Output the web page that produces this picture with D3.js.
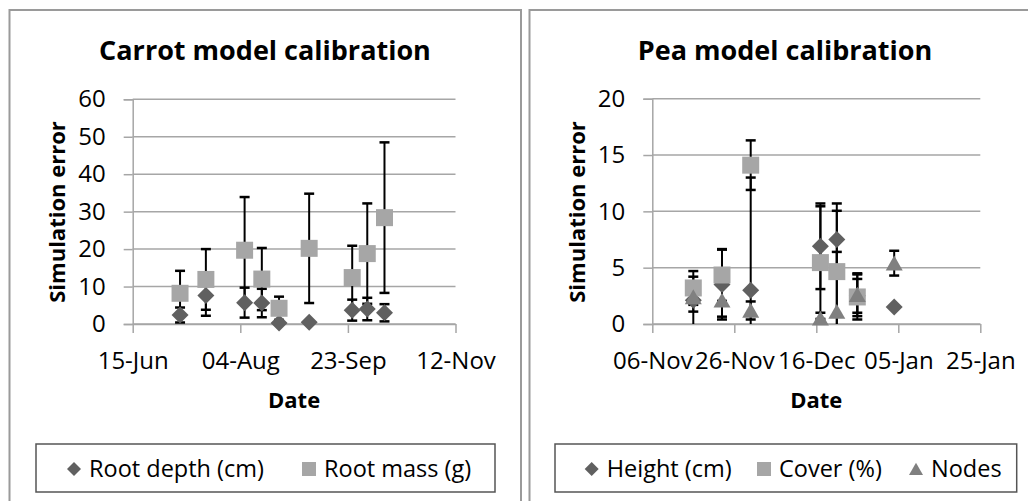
<!DOCTYPE html>
<html>
<head>
<meta charset="utf-8">
<script src="https://cdn.jsdelivr.net/npm/d3@7/dist/d3.min.js"></script>
<style>
  body { margin: 0; background: #fff; }
  text { font-family: "Open Sans", sans-serif; fill: #000; }
</style>
</head>
<body>
<svg id="chart" width="1028" height="501"></svg>
<script>
// carrot calibration
const carrotDates = ["2010-07-07", "2010-07-19", "2010-08-06", "2010-08-14", "2010-08-22",
  "2010-09-05", "2010-09-25", "2010-10-02", "2010-10-10"];
const rootDepth = [2.4, 7.6, 5.7, 5.6, 0.3, 0.5, 3.7, 4.0, 3.0];
const rootDepthErr = [2.0, 5.4, 4.0, 3.8, 0, 0, 2.8, 3.0, 2.3];
const rootMass = [8.2, 11.9, 19.7, 12.0, 4.2, 20.2, 12.4, 18.8, 28.4];
const rootMassErr = [6.0, 8.1, 14.2, 8.3, 3.1, 14.6, 8.5, 13.4, 20.1];
const carrotXTicks = ["2010-06-15", "2010-08-04", "2010-09-23", "2010-11-12"];
const carrotYTicks = [0, 10, 20, 30, 40, 50, 60];

// pea calibration
const peaDates = ["2011-11-16", "2011-11-23", "2011-11-30", "2011-12-17", "2011-12-21",
  "2011-12-26", "2012-01-04"];
const peaHeight = [2.1, 3.5, 3.0, 6.9, 7.5, 2.5, 1.5];
const peaHeightErr = [2.1, 3.1, 10.0, 3.8, 3.2, 1.5, 0];
const peaCover = [3.2, 4.35, 14.1, 5.45, 4.65, 2.4, null];
const peaCoverErr = [1.5, 2.3, 2.2, 5.0, 5.4, 2.0, null];
const peaNodes = [2.4, 2.1, 1.2, 0.5, 1.1, 2.6, 5.4];
const peaNodesErr = [1.3, 1.45, 0.8, 0.5, 5.3, 1.9, 1.1];
const peaXTicks = ["2011-11-06", "2011-11-26", "2011-12-16", "2012-01-05", "2012-01-25"];
const peaYTicks = [0, 5, 10, 15, 20];

const parse = d3.utcParse("%Y-%m-%d");
const fmt = d3.utcFormat("%d-%b");

const COLORS = { diamond: "#606060", square: "#a6a6a6", triangle: "#808080" };
const GRID = "#a6a6a6";

const shapes = {
  diamond: (r) => `M0,${-r}L${r},0L0,${r}L${-r},0Z`,
  square: (r) => `M${-r},${-r}H${r}V${r}H${-r}Z`,
  triangle: (r) => `M0,${-r * 0.9}L${r},${r * 0.85}L${-r},${r * 0.85}Z`,
};

const svg = d3.select("#chart");

function drawPanel(cfg) {
  const g = svg.append("g");

  // frame
  g.append("rect")
    .attr("x", cfg.frame[0]).attr("y", 10)
    .attr("width", cfg.frame[1] - cfg.frame[0]).attr("height", 520)
    .attr("fill", "none").attr("stroke", "#9a9a9a").attr("stroke-width", 2);

  const x = d3.scaleUtc()
    .domain([parse(cfg.xTicks[0]), parse(cfg.xTicks[cfg.xTicks.length - 1])])
    .range([cfg.left, cfg.right]);
  const y = d3.scaleLinear()
    .domain([0, cfg.yTicks[cfg.yTicks.length - 1]])
    .range([324, cfg.top]);

  // gridlines
  g.append("g").selectAll("line").data(cfg.yTicks).join("line")
    .attr("x1", cfg.left).attr("x2", cfg.right)
    .attr("y1", (d) => y(d)).attr("y2", (d) => y(d))
    .attr("stroke", GRID).attr("stroke-width", 1.5);

  const yAxisG = g.append("g")
    .attr("transform", `translate(${cfg.left},0)`)
    .call(d3.axisLeft(y).tickValues(cfg.yTicks).tickSize(9).tickPadding(18).tickFormat(d3.format("d")));
  const xAxisG = g.append("g")
    .attr("transform", `translate(0,324)`)
    .call(d3.axisBottom(x).tickValues(cfg.xTicks.map(parse)).tickSize(9).tickSizeOuter(0).tickFormat(fmt));

  [yAxisG, xAxisG].forEach((ax) => {
    ax.select(".domain").attr("stroke", GRID).attr("stroke-width", 1.5);
    ax.selectAll(".tick line").attr("stroke", GRID).attr("stroke-width", 1.5);
    ax.selectAll(".tick text").attr("fill", "#000").style("font-size", "24px")
      .style("font-family", '"Open Sans", sans-serif');
  });
  xAxisG.selectAll(".tick text").attr("y", 28);

  // error bars
  const eg = g.append("g");
  cfg.series.forEach((s) => {
    s.dates.forEach((dt, i) => {
      const v = s.values[i], e = s.errors[i];
      if (v == null || !e) return;
      const cx = x(parse(dt));
      const lo = v - e, hi = v + e;
      const y0 = y(Math.max(0, lo)), y1 = y(hi);
      eg.append("line").attr("x1", cx).attr("x2", cx).attr("y1", y0).attr("y2", y1)
        .attr("stroke", "#000").attr("stroke-width", 2);
      eg.append("line").attr("x1", cx - 5).attr("x2", cx + 5).attr("y1", y1).attr("y2", y1)
        .attr("stroke", "#000").attr("stroke-width", 2.5);
      if (lo > 0) {
        eg.append("line").attr("x1", cx - 5).attr("x2", cx + 5).attr("y1", y0).attr("y2", y0)
          .attr("stroke", "#000").attr("stroke-width", 2.5);
      }
    });
  });

  // markers
  cfg.series.forEach((s) => {
    const pts = s.dates.map((dt, i) => ({ date: parse(dt), value: s.values[i] }))
      .filter((d) => d.value != null);
    g.append("g").selectAll("path").data(pts).join("path")
      .attr("transform", (d) => `translate(${x(d.date)},${y(d.value)})`)
      .attr("d", shapes[s.shape](8.5))
      .attr("fill", COLORS[s.shape]);
  });

  // titles
  g.append("text").attr("x", cfg.titleX).attr("y", 60)
    .attr("text-anchor", "middle").style("font-size", "27px").style("font-weight", 700)
    .text(cfg.title);
  g.append("text")
    .attr("transform", `translate(${cfg.yLabelX},212) rotate(-90)`)
    .attr("text-anchor", "middle").attr("dy", "0.35em")
    .style("font-size", "22px").style("font-weight", 700)
    .text("Simulation error");
  g.append("text").attr("x", (cfg.left + cfg.right) / 2).attr("y", 408)
    .attr("text-anchor", "middle").style("font-size", "22px").style("font-weight", 700)
    .text("Date");

  // legend
  g.append("rect")
    .attr("x", cfg.legend[0]).attr("y", 444)
    .attr("width", cfg.legend[1] - cfg.legend[0]).attr("height", 48)
    .attr("fill", "#fff").attr("stroke", "#555").attr("stroke-width", 1.5);
  cfg.series.forEach((s, i) => {
    const mx = cfg.legendX[i];
    g.append("path").attr("transform", `translate(${mx},469)`)
      .attr("d", shapes[s.shape](7)).attr("fill", COLORS[s.shape]);
    g.append("text").attr("x", mx + 15).attr("y", 469).attr("dy", "0.36em")
      .style("font-size", "23.5px").text(s.name);
  });
}

drawPanel({
  frame: [9.5, 521],
  left: 132.7, right: 455.5, top: 99.3,
  xTicks: carrotXTicks, yTicks: carrotYTicks,
  title: "Carrot model calibration", titleX: 265, yLabelX: 57,
  legend: [36, 495], legendX: [74, 309],
  series: [
    { name: "Root depth (cm)", shape: "diamond", dates: carrotDates, values: rootDepth, errors: rootDepthErr },
    { name: "Root mass (g)", shape: "square", dates: carrotDates, values: rootMass, errors: rootMassErr },
  ],
});

drawPanel({
  frame: [529.5, 1042],
  left: 652.3, right: 980.3, top: 98.7,
  xTicks: peaXTicks, yTicks: peaYTicks,
  title: "Pea model calibration", titleX: 785, yLabelX: 577,
  legend: [555, 1016.7], legendX: [591.7, 764, 916],
  series: [
    { name: "Height (cm)", shape: "diamond", dates: peaDates, values: peaHeight, errors: peaHeightErr },
    { name: "Cover (%)", shape: "square", dates: peaDates, values: peaCover, errors: peaCoverErr },
    { name: "Nodes", shape: "triangle", dates: peaDates, values: peaNodes, errors: peaNodesErr },
  ],
});
</script>
</body>
</html>
